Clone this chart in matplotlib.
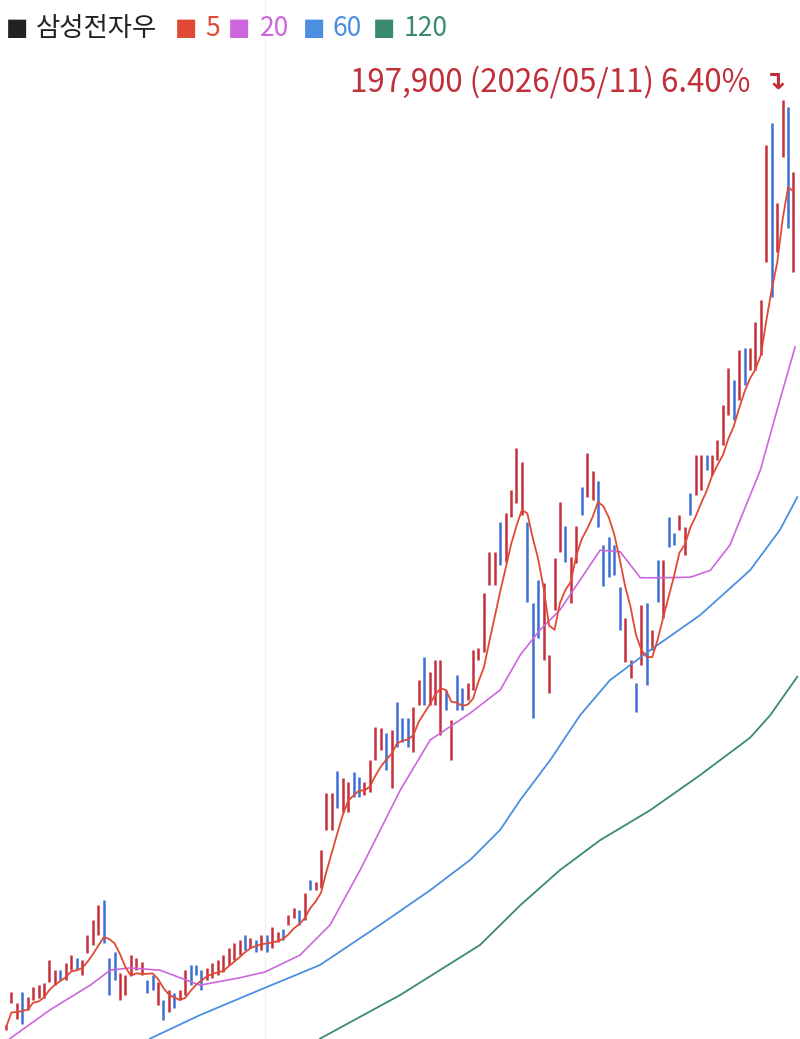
import matplotlib
matplotlib.use("Agg")
import matplotlib.pyplot as plt
import numpy as np

# prices in thousands of KRW
highs = [37.2,42.9,41.0,42.9,42.0,43.8,44.1,44.5,48.5,46.7,46.7,48.0,49.3,48.8,48.5,52.8,55.4,58.0,58.9,48.8,
         49.9,46.2,45.9,49.3,48.8,48.1,45.0,45.9,44.7,41.5,43.3,42.7,43.3,46.7,47.6,47.6,46.7,47.1,48.0,48.5,
         49.3,50.6,51.4,52.0,52.8,52.3,52.0,52.8,52.8,54.2,53.3,53.9,56.3,57.5,57.2,60.1,62.4,62.0,67.6,77.5,
         77.5,81.3,80.1,79.4,81.1,80.3,79.4,83.2,89.0,88.8,87.9,88.4,93.3,90.5,90.5,92.4,97.1,101.1,98.5,100.6,
         100.6,95.4,90.2,98.0,95.7,96.6,102.3,102.7,112.2,119.4,119.4,124.6,126.1,130.1,137.4,135.0,124.6,110.5,114.5,114.0,
         101.5,118.3,128.1,123.9,118.5,123.9,130.7,136.6,133.4,131.7,120.6,122.0,120.6,113.3,107.9,100.6,96.6,110.2,110.5,105.8,
         118.0,118.0,125.5,122.7,125.8,123.7,129.6,136.2,136.2,136.2,136.2,138.8,144.9,151.3,149.3,154.5,154.8,154.8,159.3,163.2,
         190.1,193.9,180.0,197.9,196.7,185.4]
lows = [36.3,41.0,38.2,37.4,39.8,41.5,41.9,41.9,44.7,44.1,45.0,45.0,46.7,46.7,45.9,49.7,51.1,52.8,51.4,42.4,
        45.0,41.5,42.4,45.9,46.7,45.9,42.7,43.3,40.7,38.1,39.4,40.1,41.5,42.4,44.1,45.9,43.3,45.0,45.4,45.9,
        46.4,47.6,48.5,49.3,50.2,50.6,49.9,50.2,49.9,50.6,51.6,52.0,54.6,55.8,54.6,55.4,60.6,60.6,61.0,71.1,
        71.1,74.9,74.2,74.2,76.8,76.8,77.1,77.7,83.2,85.0,81.5,78.4,85.5,86.4,85.5,84.6,92.8,92.8,92.8,92.8,
        87.6,91.9,83.2,91.9,91.9,93.7,95.4,100.6,102.0,113.6,113.6,117.1,117.6,125.5,127.9,125.8,110.7,90.5,104.4,100.6,
        94.9,109.3,119.4,117.6,110.5,117.5,125.8,128.9,128.4,123.7,113.5,115.0,115.4,105.8,100.3,97.5,91.6,99.7,96.3,102.3,
        110.7,107.9,120.2,120.6,123.2,118.9,125.8,129.3,130.1,133.6,132.8,135.4,138.0,143.2,142.3,145.8,148.4,151.0,151.0,153.6,
        169.8,163.7,171.5,188.0,175.7,168.0]
up = ("rrrbrrrrrrbrrbrrrrbb" "brrrrrbbrbrbrrbbbrrr" "rrrrbrbrbrrbrrbrbrrr"
      "rbrrbbrrrrbrbbbrrbrr" "rbrbbrrrrrrbrrrrbbbr" "rrrbrrbrrbbbbbrrbrbr"
      "brbbrrbrrbrrrrbrbrrr" "rbrrbr")

ma20_i = [0.7,8.1,15.5,19.2,22.8,28.4,35.7,43.1,47.7,54.1,59.7,65.2,72.6,78.1,85.5,91.0,94.7,98.3,102.0,105.7,109.4,113.1,116.8,120.4,126.0,129.7,133.3,138.9,142.5,145.3]
ma20_v = [34.8,39.8,44.1,46.7,47.1,46.7,44.1,45.4,46.4,49.3,54.6,64.1,78.0,86.7,91.4,95.4,101.5,105.8,109.3,114.5,119.7,119.4,114.9,114.9,115.0,116.2,120.6,133.6,145.8,155.0]
ma60_i = [26.5,35.7,46.8,57.8,68.9,78.1,85.5,91.0,94.7,100.2,105.7,111.2,118.6,127.8,137.0,142.5,145.7]
ma60_v = [34.8,38.9,43.3,47.6,54.6,60.6,65.9,71.1,76.3,83.2,91.0,97.1,102.3,108.4,116.2,123.2,128.9]
ma120_i = [57.8,72.6,87.3,94.7,102.0,109.4,118.6,127.8,137.0,140.7,145.7]
ma120_v = [34.8,42.4,51.1,58.0,64.1,69.3,74.5,80.6,87.1,91.0,97.7]

legend_names = ["삼성전자우", "5", "20", "60", "120"]
last_label = "197,900 (2026/05/11) 6.40%"

UP, DN = "#c62f3b", "#3d6fd6"
C5, C20, C60, C120 = "#e04a35", "#cc66dd", "#4a8fe0", "#3a8a72"

plt.rcParams['font.family'] = ['Noto Sans CJK KR', 'DejaVu Sans']
W, H = 800, 1039
fig = plt.figure(figsize=(W / 100, H / 100), dpi=100)
ax = fig.add_axes([0, 0, 1, 1])
ax.set_xlim(-1.1, 146.2)
ax.set_ylim(34.75, 215.3)
ax.axis('off')

n = len(highs)
idx = np.arange(n)
ax.axvline(47.7, color="#eeeeee", lw=0.8, zorder=0)
for i in range(n):
    ax.vlines(i, lows[i], highs[i], color=UP if up[i] == 'r' else DN, lw=1.8, zorder=2)

mid = (np.array(highs) + np.array(lows)) / 2
ma5 = np.array([mid[max(0, i - 4):i + 1].mean() for i in range(n)])
ax.plot(ma20_i, ma20_v, color=C20, lw=1.2, zorder=3)
ax.plot(ma60_i, ma60_v, color=C60, lw=1.3, zorder=3)
ax.plot(ma120_i, ma120_v, color=C120, lw=1.3, zorder=3)
ax.plot(idx, ma5, color=C5, lw=1.3, zorder=4)

# legend (pixel positions)
ly = 1 - 28 / H
items = [("#222222", 6, 36, legend_names[0]), (C5, 175, 205, legend_names[1]),
         (C20, 228, 260, legend_names[2]), (C60, 303, 333, legend_names[3]),
         (C120, 373, 404, legend_names[4])]
for c, xm, xt, nm in items:
    fig.text(xm / W, ly, "■", color=c, fontsize=17, va="center", family=['DejaVu Sans'])
    fig.text(xt / W, ly, nm, color=c, fontsize=19, va="center")

fig.text(751 / W, 1 - 82 / H, last_label, color="#c0303a", fontsize=22.5, ha="right", va="center")
fig.text(764 / W, 1 - 82 / H, "↴", color="#c0303a", fontsize=19, ha="left", va="center",
         fontweight="bold", family=['DejaVu Sans'])

fig.savefig("out.png", dpi=100)
